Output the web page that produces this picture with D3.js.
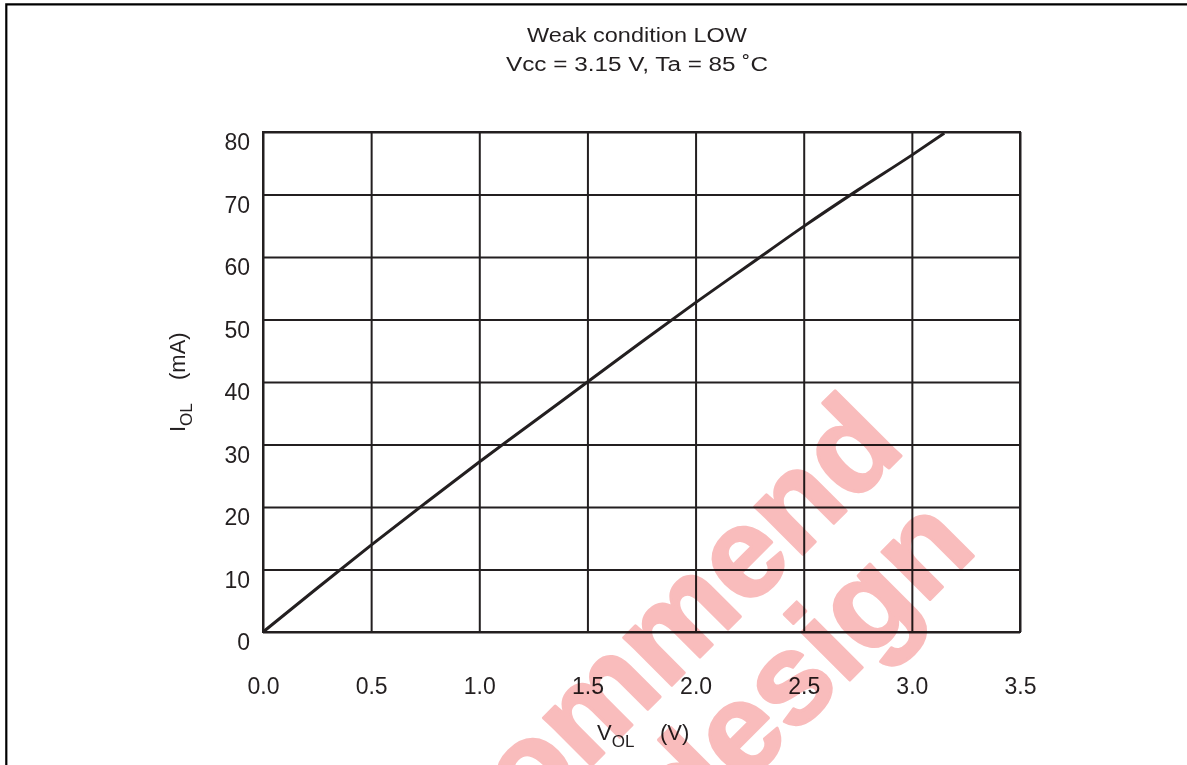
<!DOCTYPE html>
<html>
<head>
<meta charset="utf-8">
<script src="https://cdn.jsdelivr.net/npm/d3@7"></script>
<style>
  body { margin: 0; background: #fff; }
  svg { display: block; font-family: "Liberation Sans", Arial, sans-serif; }
</style>
</head>
<body>
<div id="chart"></div>
<script>
// data
const vol = [0, 0.25, 0.5, 0.75, 1.0, 1.25, 1.5, 1.75, 2.0, 2.25, 2.5, 2.75, 3.0, 3.15];
const iol = [0, 7.0, 13.9, 20.6, 27.2, 33.6, 40.0, 46.4, 52.7, 58.8, 64.9, 70.7, 76.3, 79.8];
const xTicks = [0, 0.5, 1.0, 1.5, 2.0, 2.5, 3.0, 3.5];
const yTicks = [0, 10, 20, 30, 40, 50, 60, 70, 80];
const titleLines = ["Weak condition LOW", "Vcc = 3.15 V, Ta = 85 \u02DAC"];
const watermark = ["Not recommend", "for new design"];

const W = 1187, H = 765;
const margin = {top: 132, left: 263};
const width = 1020 - 263;
const height = 632 - 132;
const ink = "#231f20";

const svg = d3.select("#chart")
    .append("svg")
    .attr("width", W)
    .attr("height", H);

svg.append("rect").attr("width", W).attr("height", H).attr("fill", "#fff");

// page frame (top and left edges only)
svg.append("path")
    .attr("d", `M6.3,${H} V4.3 H${W}`)
    .attr("fill", "none")
    .attr("stroke", "#000")
    .attr("stroke-width", 2.2);

// title (the source font is wider than Arial, so stretch to its measured width)
const titleWidths = [220, 262];
svg.append("g")
    .selectAll("text")
    .data(titleLines)
    .enter()
    .append("text")
    .attr("x", 637)
    .attr("y", (d, i) => 42 + i * 29)
    .attr("text-anchor", "middle")
    .attr("font-size", 20)
    .attr("textLength", (d, i) => titleWidths[i])
    .attr("lengthAdjust", "spacingAndGlyphs")
    .attr("fill", ink)
    .text(d => d);

const g = svg.append("g")
    .attr("transform", `translate(${margin.left},${margin.top})`);

const x = d3.scaleLinear().domain([0, 3.5]).range([0, width]);
const y = d3.scaleLinear().domain([0, 80]).range([height, 0]);

// x axis: grid + labels
const xAxis = g.append("g")
    .attr("transform", `translate(0,${height})`)
    .call(d3.axisBottom(x).tickValues(xTicks).tickSize(-height).tickPadding(46)
        .tickFormat(d3.format(".1f")));

// y axis: grid + labels
const yAxis = g.append("g")
    .call(d3.axisLeft(y).tickValues(yTicks).tickSize(-width).tickPadding(13)
        .tickFormat(d3.format("d")));

[xAxis, yAxis].forEach(a => {
    a.select(".domain").remove();
    a.selectAll("line").attr("stroke", ink).attr("stroke-width", 2);
    a.selectAll("text")
        .attr("font-size", 23)
        .attr("font-family", "Liberation Sans, Arial, sans-serif")
        .attr("fill", ink);
});
yAxis.selectAll("text").attr("dy", "0.78em");

// plot border
g.append("rect")
    .attr("width", width)
    .attr("height", height)
    .attr("fill", "none")
    .attr("stroke", ink)
    .attr("stroke-width", 2);

// curve
const pts = vol.map((v, i) => [v, iol[i]]);
g.append("path")
    .datum(pts)
    .attr("fill", "none")
    .attr("stroke", ink)
    .attr("stroke-width", 3)
    .attr("d", d3.line().x(d => x(d[0])).y(d => y(d[1])).curve(d3.curveMonotoneX));

// axis titles
const xl = svg.append("text")
    .attr("x", 597)
    .attr("y", 740)
    .attr("font-size", 22)
    .attr("fill", ink);
xl.append("tspan").text("V");
xl.append("tspan").attr("font-size", 17).attr("dy", 7).text("OL");
xl.append("tspan").attr("dy", -7).attr("x", 660).text("(V)");

const yl = svg.append("text")
    .attr("transform", "translate(185,432) rotate(-90)")
    .attr("font-size", 22)
    .attr("fill", ink);
yl.append("tspan").text("I");
yl.append("tspan").attr("font-size", 17).attr("dy", 7).text("OL");
yl.append("tspan").attr("dy", -7).attr("x", 52).text("(mA)");

// watermark (multiplied over the chart)
const wm = svg.append("g")
    .attr("transform", "translate(907,450) rotate(-45)")
    .style("mix-blend-mode", "multiply")
    .attr("fill", "#f9bcbc")
    .attr("stroke", "#f9bcbc")
    .attr("stroke-width", 3)
    .attr("stroke-linejoin", "round")
    .attr("font-weight", "bold")
    .attr("font-size", 128)
    .attr("text-anchor", "end");
wm.selectAll("text")
    .data(watermark)
    .enter()
    .append("text")
    .attr("x", (d, i) => i === 0 ? 0 : -20)
    .attr("y", (d, i) => i * 122)
    .text(d => d);
</script>
</body>
</html>
